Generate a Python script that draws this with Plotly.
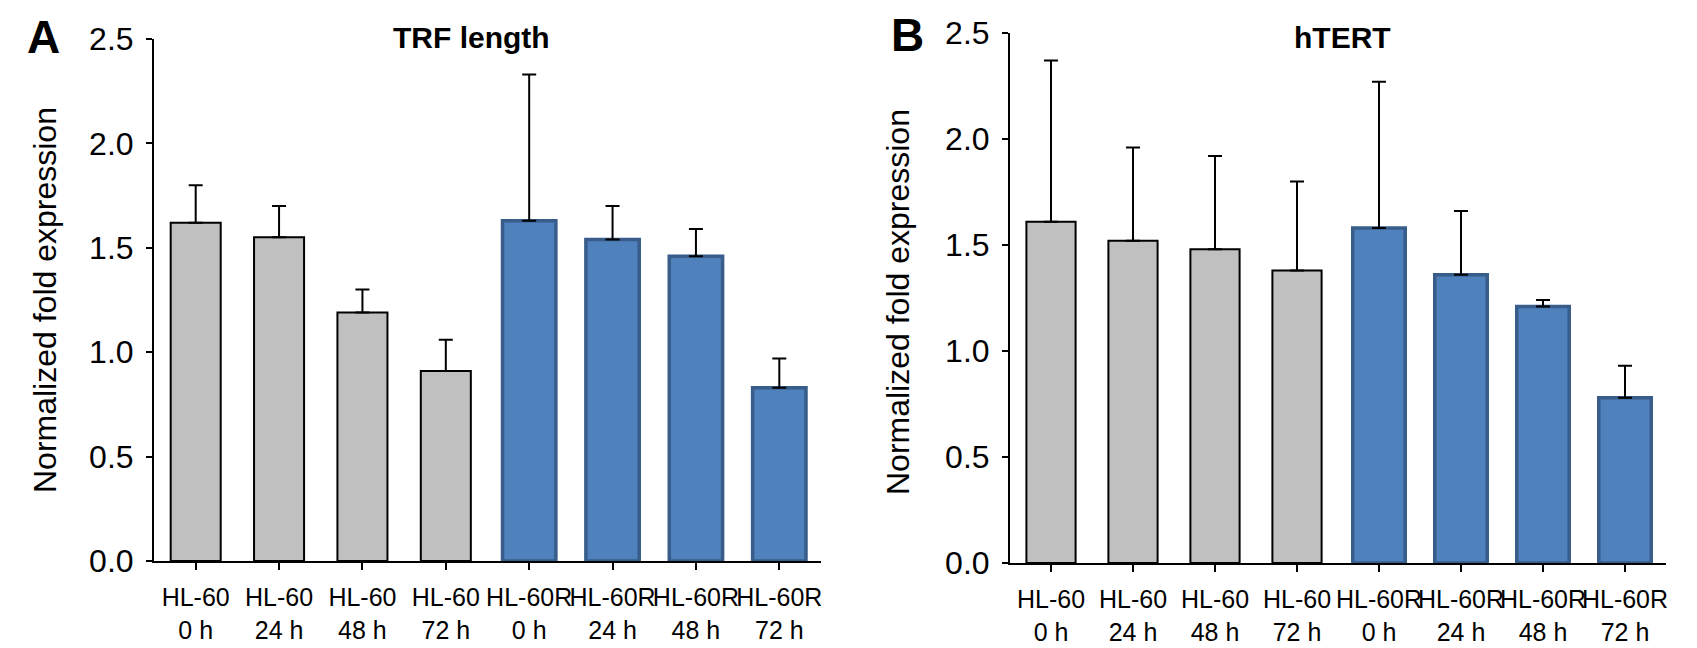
import plotly.graph_objects as go

# x categories shared by both panels
categories = [
    "HL-60<br>0 h",
    "HL-60<br>24 h",
    "HL-60<br>48 h",
    "HL-60<br>72 h",
    "HL-60R<br>0 h",
    "HL-60R<br>24 h",
    "HL-60R<br>48 h",
    "HL-60R<br>72 h",
]
cell_line = ["HL-60", "HL-60", "HL-60", "HL-60", "HL-60R", "HL-60R", "HL-60R", "HL-60R"]

# panel A - TRF length
trf_mean = [1.62, 1.55, 1.19, 0.91, 1.63, 1.54, 1.46, 0.83]
trf_sd = [0.18, 0.15, 0.11, 0.15, 0.70, 0.16, 0.13, 0.14]

# panel B - hTERT
htert_mean = [1.61, 1.52, 1.48, 1.38, 1.58, 1.36, 1.21, 0.78]
htert_sd = [0.76, 0.44, 0.44, 0.42, 0.69, 0.30, 0.03, 0.15]

y_ticks = [0.0, 0.5, 1.0, 1.5, 2.0, 2.5]

FONT = "Arial, Liberation Sans, sans-serif"
W, H = 1697, 648


def barTrace(means, sds, xaxis, yaxis):
    fill = []
    edge = []
    edgeWidth = []
    barWidth = []
    for c in cell_line:
        if c == "HL-60":
            fill.append("#c0c0c0")
            edge.append("black")
            edgeWidth.append(2)
            barWidth.append(0.6)
        else:
            fill.append("#4f81bd")
            edge.append("#385d8a")
            edgeWidth.append(3.5)
            barWidth.append(0.64)
    return go.Bar(
        x=categories,
        y=means,
        width=barWidth,
        marker=dict(color=fill, line=dict(color=edge, width=edgeWidth)),
        error_y=dict(
            type="data",
            symmetric=False,
            array=sds,
            arrayminus=[0] * len(sds),
            color="black",
            thickness=2,
            width=7,
        ),
        xaxis=xaxis,
        yaxis=yaxis,
        showlegend=False,
    )


def styleAxes(xdom, ydom):
    xa = dict(
        domain=xdom,
        type="category",
        categoryorder="array",
        categoryarray=categories,
        range=[-0.5, 7.5],
        showline=True,
        linecolor="black",
        linewidth=2,
        ticks="outside",
        ticklen=7,
        tickwidth=2,
        tickcolor="black",
        tickangle=0,
        ticklabelstandoff=6,
        tickfont=dict(family=FONT, size=25, color="black"),
        showgrid=False,
        zeroline=False,
        automargin=False,
    )
    ya = dict(
        domain=ydom,
        range=[0, 2.5],
        tickvals=y_ticks,
        tickformat=".1f",
        showline=True,
        linecolor="black",
        linewidth=2,
        ticks="outside",
        ticklen=6,
        tickwidth=2,
        tickcolor="black",
        ticklabelstandoff=6,
        tickfont=dict(family=FONT, size=32, color="black"),
        showgrid=False,
        zeroline=False,
        automargin=False,
    )
    return xa, ya


fig = go.Figure()
fig.add_trace(barTrace(trf_mean, trf_sd, "x", "y"))
fig.add_trace(barTrace(htert_mean, htert_sd, "x2", "y2"))

xa1, ya1 = styleAxes([146 / W, 813 / W], [1 - 553 / H, 1 - 31 / H])
xa2, ya2 = styleAxes([1002 / W, 1658 / W], [1 - 555 / H, 1 - 25 / H])
ya2["anchor"] = "x2"
xa2["anchor"] = "y2"
ya1["anchor"] = "x"
xa1["anchor"] = "y"

annotations = []
for text, x, y, size in [
    ("A", 35 / W, 1 - 29 / H, 46),
    ("B", 899 / W, 1 - 27 / H, 46),
    ("TRF length", 463 / W, 1 - 30 / H, 30),
    ("hTERT", 1334 / W, 1 - 30 / H, 30),
]:
    annotations.append(
        dict(
            text="<b>" + text + "</b>",
            x=x,
            y=y,
            xref="paper",
            yref="paper",
            xanchor="center",
            yanchor="middle",
            showarrow=False,
            font=dict(family=FONT, size=size, color="black"),
        )
    )
for x, y in [(37 / W, 1 - 292 / H), (890 / W, 1 - 294 / H)]:
    annotations.append(
        dict(
            text="Normalized fold expression",
            x=x,
            y=y,
            xref="paper",
            yref="paper",
            xanchor="center",
            yanchor="middle",
            textangle=-90,
            showarrow=False,
            font=dict(family=FONT, size=32, color="black"),
        )
    )

fig.update_layout(
    width=W,
    height=H,
    margin=dict(l=0, r=0, t=0, b=0, autoexpand=False),
    plot_bgcolor="white",
    paper_bgcolor="white",
    xaxis=xa1,
    yaxis=ya1,
    xaxis2=xa2,
    yaxis2=ya2,
    annotations=annotations,
)

fig.write_html("out.html")
